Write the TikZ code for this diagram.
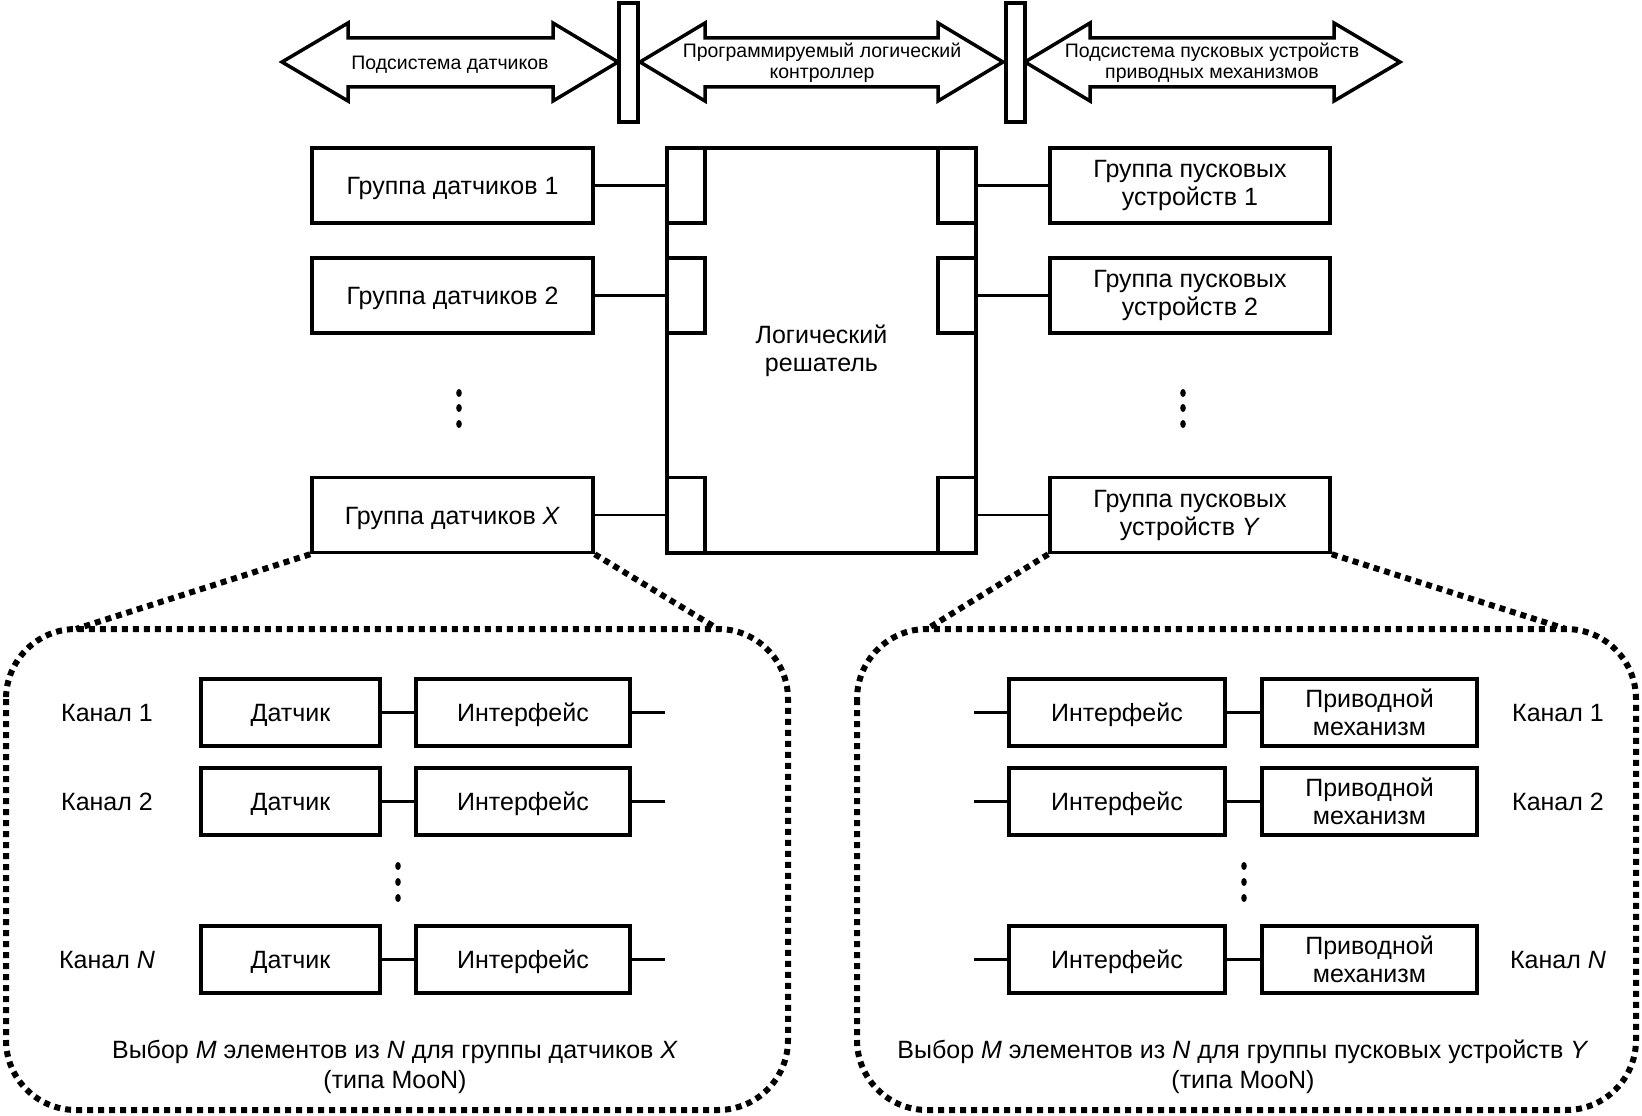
\documentclass[tikz,border=0pt]{standalone}
\usepackage{fontspec}
\setmainfont{Liberation Sans}
\begin{document}
\begin{tikzpicture}[x=1pt,y=-1pt,
  box/.style={draw, line width=3.5pt, fill=white, inner sep=0pt, align=center,
              font=\fontsize{25}{28}\selectfont},
  one/.style={text height=20pt, text depth=2pt},
  txt/.style={inner sep=0pt, align=center, font=\fontsize{25}{30}\selectfont},
  toptxt/.style={inner sep=0pt, align=center, font=\fontsize{19.5}{21}\selectfont},
  conn/.style={line width=2.5pt},
  pconn/.style={line width=3.5pt},
  arrowshape/.style={draw, line width=3.5pt, line join=miter, fill=white},
  barshape/.style={draw, line width=3.5pt, fill=white},
  dotline/.style={line width=6pt, dash pattern=on 6pt off 5pt},
  vdot/.style={fill=black}
]
\useasboundingbox (0,0) rectangle (1642,1116);
\fill[white] (0,0) rectangle (1642,1116);

% ---------- top double arrows ----------
\draw[arrowshape] (282,62) -- (348,23) -- (348,38) -- (553,38) -- (553,23) -- (618,62)
  -- (553,101) -- (553,87) -- (348,87) -- (348,101) -- cycle;
\draw[arrowshape] (640,62) -- (705,23) -- (705,38) -- (938,38) -- (938,23) -- (1003,62)
  -- (938,101) -- (938,87) -- (705,87) -- (705,101) -- cycle;
\draw[arrowshape] (1025,62) -- (1090,23) -- (1090,38) -- (1334,38) -- (1334,23) -- (1400,62)
  -- (1334,101) -- (1334,87) -- (1090,87) -- (1090,101) -- cycle;
\draw[barshape] (619,3) rectangle (638,122);
\draw[barshape] (1006,3) rectangle (1025,122);
\node[toptxt, text height=15pt, text depth=1pt] (a1) at (450,63) {Подсистема датчиков};
\node[toptxt] (a2) at (822,62.5) {Программируемый логический\\контроллер};
\node[toptxt] (a3) at (1212,62.5) {Подсистема пусковых устройств\\приводных механизмов};

% ---------- logic solver ----------
\node[box, minimum width=309pt, minimum height=405pt] (ls) at (821.5,350.5) {Логический\\решатель};
\node[box, minimum width=38pt, minimum height=75pt] (lp1) at (686,185.5) {};
\node[box, minimum width=38pt, minimum height=75pt] (lp2) at (686,295.5) {};
\node[box, minimum width=38pt, minimum height=75pt] (lpx) at (686,515) {};
\node[box, minimum width=38pt, minimum height=75pt] (rp1) at (957,185.5) {};
\node[box, minimum width=38pt, minimum height=75pt] (rp2) at (957,295.5) {};
\node[box, minimum width=38pt, minimum height=75pt] (rpy) at (957,515) {};

% ---------- groups ----------
\node[box, one, minimum width=281pt, minimum height=75pt] (g1) at (452.5,185.5) {Группа датчиков 1};
\node[box, one, minimum width=281pt, minimum height=75pt] (g2) at (452.5,295.5) {Группа датчиков 2};
\node[box, one, minimum width=281pt, minimum height=75pt] (gx) at (452.5,515) {Группа датчиков \textit{X}};
\node[box, minimum width=280pt, minimum height=75pt] (h1) at (1190,185.5) {Группа пусковых\\устройств 1};
\node[box, minimum width=280pt, minimum height=75pt] (h2) at (1190,295.5) {Группа пусковых\\устройств 2};
\node[box, minimum width=280pt, minimum height=75pt] (hy) at (1190,515) {Группа пусковых\\устройств \textit{Y}};

\draw[conn] (g1.east) -- (lp1.west);
\draw[conn] (g2.east) -- (lp2.west);
\draw[conn] (gx.east) -- (lpx.west);
\draw[conn] (rp1.east) -- (h1.west);
\draw[conn] (rp2.east) -- (h2.west);
\draw[conn] (rpy.east) -- (hy.west);

\foreach \yy in {393,408,424} {\fill[vdot] (459,\yy) ellipse (2.8pt and 4pt);}
\foreach \yy in {393,408,424} {\fill[vdot] (1183,\yy) ellipse (2.8pt and 4pt);}

% ---------- dotted panels ----------
\draw[dotline, rounded corners=70pt] (6,629) rectangle (788,1110);
\draw[dotline, rounded corners=70pt] (857,629) rectangle (1636,1110);
\coordinate (pl1) at (76,629);
\coordinate (pl2) at (718,629);
\coordinate (pr1) at (927,629);
\coordinate (pr2) at (1566,629);
\draw[dotline] (gx.south west) -- (pl1);
\draw[dotline] (gx.south east) -- (pl2);
\draw[dotline] (hy.south west) -- (pr1);
\draw[dotline] (hy.south east) -- (pr2);

% ---------- left panel ----------
\node[txt, one] (kl1) at (107,712.5) {Канал 1};
\node[txt, one] (kl2) at (107,801.5) {Канал 2};
\node[txt, one] (kln) at (107,959.5) {Канал \textit{N}};
\node[box, one, minimum width=179pt, minimum height=67pt] (d1) at (290.5,712.5) {Датчик};
\node[box, one, minimum width=179pt, minimum height=67pt] (d2) at (290.5,801.5) {Датчик};
\node[box, one, minimum width=179pt, minimum height=67pt] (dn) at (290.5,959.5) {Датчик};
\node[box, one, minimum width=214pt, minimum height=67pt] (i1) at (523,712.5) {Интерфейс};
\node[box, one, minimum width=214pt, minimum height=67pt] (i2) at (523,801.5) {Интерфейс};
\node[box, one, minimum width=214pt, minimum height=67pt] (in) at (523,959.5) {Интерфейс};
\coordinate (e1) at (665,712.5);
\coordinate (e2) at (665,801.5);
\coordinate (en) at (665,959.5);
\draw[pconn] (d1.east) -- (i1.west);
\draw[pconn] (d2.east) -- (i2.west);
\draw[pconn] (dn.east) -- (in.west);
\draw[pconn] (i1.east) -- (e1);
\draw[pconn] (i2.east) -- (e2);
\draw[pconn] (in.east) -- (en);
\foreach \yy in {866,882,898} {\fill[vdot] (398,\yy) ellipse (2.8pt and 4pt);}
\node[txt] (bl) at (395,1067) {Выбор \textit{M} элементов из \textit{N} для группы датчиков \textit{X}\\(типа MooN)};

% ---------- right panel ----------
\coordinate (s1) at (974,712.5);
\coordinate (s2) at (974,801.5);
\coordinate (sn) at (974,959.5);
\node[box, one, minimum width=216pt, minimum height=67pt] (j1) at (1117,712.5) {Интерфейс};
\node[box, one, minimum width=216pt, minimum height=67pt] (j2) at (1117,801.5) {Интерфейс};
\node[box, one, minimum width=216pt, minimum height=67pt] (jn) at (1117,959.5) {Интерфейс};
\node[box, minimum width=215pt, minimum height=67pt] (m1) at (1369.5,712.5) {Приводной\\механизм};
\node[box, minimum width=215pt, minimum height=67pt] (m2) at (1369.5,801.5) {Приводной\\механизм};
\node[box, minimum width=215pt, minimum height=67pt] (mn) at (1369.5,959.5) {Приводной\\механизм};
\node[txt, one] (kr1) at (1558,712.5) {Канал 1};
\node[txt, one] (kr2) at (1558,801.5) {Канал 2};
\node[txt, one] (krn) at (1558,959.5) {Канал \textit{N}};
\draw[pconn] (s1) -- (j1.west);
\draw[pconn] (s2) -- (j2.west);
\draw[pconn] (sn) -- (jn.west);
\draw[pconn] (j1.east) -- (m1.west);
\draw[pconn] (j2.east) -- (m2.west);
\draw[pconn] (jn.east) -- (mn.west);
\foreach \yy in {866,882,898} {\fill[vdot] (1244,\yy) ellipse (2.8pt and 4pt);}
\node[txt] (br) at (1243,1067) {Выбор \textit{M} элементов из \textit{N} для группы пусковых устройств \textit{Y}\\(типа MooN)};
\end{tikzpicture}
\end{document}
